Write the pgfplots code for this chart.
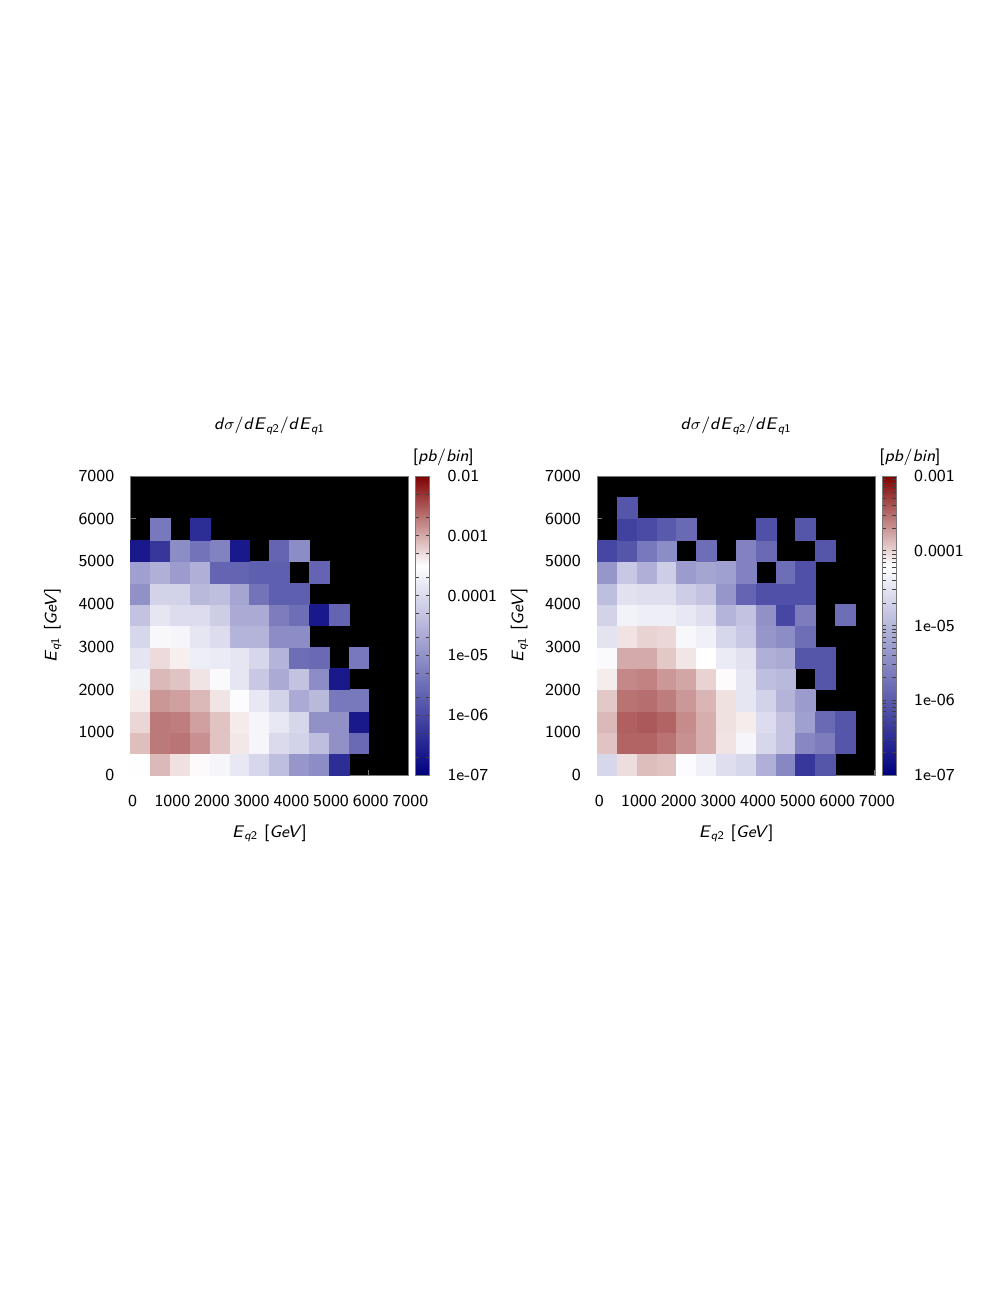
\documentclass[border=0pt]{standalone}
\usepackage{pgfplots}
\pgfplotsset{compat=1.18}
\usepackage{pgfplotstable}

\definecolor{framegray}{RGB}{120,120,120}

% one 500 GeV x 500 GeV bin
\pgfdeclareplotmark{cell}{%
  \pgfpathrectangle{\pgfpoint{-4.96pt}{-5.34pt}}{\pgfpoint{9.92pt}{10.68pt}}%
  \pgfusepathqfillstroke}

% log10 of dsigma/dEq2/dEq1 [pb/bin], bin centres in GeV
\pgfplotstableread{
x y lv
250 250 -3.52
750 250 -3.09
1250 250 -3.32
1750 250 -3.47
2250 250 -3.64
2750 250 -3.81
3250 250 -4.05
3750 250 -4.39
4250 250 -4.94
4750 250 -5.08
5250 250 -6.38
250 750 -3.12
750 750 -2.71
1250 750 -2.68
1750 750 -2.85
2250 750 -3.15
2750 750 -3.36
3250 750 -3.64
3750 750 -4.01
4250 750 -4.12
4750 750 -4.39
5250 750 -5.01
5750 750 -5.56
250 1250 -3.26
750 1250 -2.71
1250 1250 -2.74
1750 1250 -2.94
2250 1250 -3.15
2750 1250 -3.38
3250 1250 -3.64
3750 1250 -3.81
4250 1250 -4.05
4750 1250 -5.01
5250 1250 -5.01
5750 1250 -6.66
250 1750 -3.38
750 1750 -2.88
1250 1750 -2.94
1750 1750 -3.09
2250 1750 -3.34
2750 1750 -3.54
3250 1750 -3.81
3750 1750 -4.12
4250 1750 -4.67
4750 1750 -4.46
5250 1750 -5.35
5750 1750 -5.35
250 2250 -3.71
750 2250 -3.09
1250 2250 -3.15
1750 2250 -3.34
2250 2250 -3.57
2750 2250 -3.84
3250 2250 -4.25
3750 2250 -4.67
4250 2250 -4.32
4750 2250 -5.08
5250 2250 -6.66
250 2750 -3.87
750 2750 -3.29
1250 2750 -3.40
1750 2750 -3.73
2250 2750 -3.77
2750 2750 -3.84
3250 2750 -4.05
3750 2750 -4.53
4250 2750 -5.49
4750 2750 -5.56
5750 2750 -5.35
250 3250 -4.05
750 3250 -3.60
1250 3250 -3.64
1750 3250 -3.84
2250 3250 -3.98
2750 3250 -4.53
3250 3250 -4.53
3750 3250 -5.08
4250 3250 -5.08
250 3750 -4.32
750 3750 -3.84
1250 3750 -3.98
1750 3750 -3.98
2250 3750 -4.19
2750 3750 -4.67
3250 3750 -4.67
3750 3750 -5.28
4250 3750 -5.49
4750 3750 -6.66
5250 3750 -5.63
250 4250 -5.01
750 4250 -4.12
1250 4250 -4.12
1750 4250 -4.46
2250 4250 -4.39
2750 4250 -4.73
3250 4250 -5.42
3750 4250 -5.70
4250 4250 -5.70
250 4750 -4.80
750 4750 -4.60
1250 4750 -4.87
1750 4750 -4.60
2250 4750 -5.63
2750 4750 -5.63
3250 4750 -5.70
3750 4750 -5.70
4750 4750 -5.63
250 5250 -6.66
750 5250 -6.25
1250 5250 -5.08
1750 5250 -5.42
2250 5250 -5.22
2750 5250 -6.66
3750 5250 -5.63
4250 5250 -5.08
750 5750 -5.35
1750 5750 -6.38
}\lefttab

\pgfplotstableread{
x y lv
250 250 -4.64
750 250 -4.04
1250 250 -3.89
1750 250 -3.92
2250 250 -4.23
2750 250 -4.36
3250 250 -4.56
3750 250 -4.64
4250 250 -5.08
4750 250 -5.52
5250 250 -6.40
5750 250 -6.07
250 750 -3.92
750 750 -3.47
1250 750 -3.47
1750 750 -3.54
2250 750 -3.68
2750 750 -3.82
3250 750 -4.07
3750 750 -4.31
4250 750 -4.64
4750 750 -4.86
5250 750 -5.52
5750 750 -5.63
6250 750 -6.07
250 1250 -3.87
750 1250 -3.45
1250 1250 -3.42
1750 1250 -3.47
2250 1250 -3.66
2750 1250 -3.82
3250 1250 -4.06
3750 1250 -4.11
4250 1250 -4.58
4750 1250 -4.86
5250 1250 -5.24
5750 1250 -5.85
6250 1250 -6.07
250 1750 -3.94
750 1750 -3.54
1250 1750 -3.52
1750 1750 -3.59
2250 1750 -3.71
2750 1750 -3.85
3250 1750 -4.06
3750 1750 -4.47
4250 1750 -4.69
4750 1750 -5.02
5250 1750 -5.30
250 2250 -4.11
750 2250 -3.64
1250 2250 -3.61
1750 2250 -3.71
2250 2250 -3.78
2750 2250 -3.99
3250 2250 -4.18
3750 2250 -4.47
4250 2250 -4.91
4750 2250 -4.97
5750 2250 -6.07
250 2750 -4.25
750 2750 -3.80
1250 2750 -3.80
1750 2750 -3.94
2250 2750 -4.08
2750 2750 -4.20
3250 2750 -4.42
3750 2750 -4.53
4250 2750 -5.08
4750 2750 -5.13
5250 2750 -6.07
5750 2750 -6.07
250 3250 -4.50
750 3250 -4.07
1250 3250 -3.99
1750 3250 -4.01
2250 3250 -4.28
2750 3250 -4.36
3250 3250 -4.64
3750 3250 -4.80
4250 3250 -5.35
4750 3250 -5.46
5250 3250 -5.79
250 3750 -4.69
750 3750 -4.34
1250 3750 -4.39
1750 3750 -4.39
2250 3750 -4.45
2750 3750 -4.56
3250 3750 -5.02
3750 3750 -4.86
4250 3750 -5.41
4750 3750 -6.23
5250 3750 -5.63
6250 3750 -5.79
250 4250 -4.91
750 4250 -4.53
1250 4250 -4.56
1750 4250 -4.56
2250 4250 -4.75
2750 4250 -4.86
3250 4250 -5.35
3750 4250 -5.90
4250 4250 -6.12
4750 4250 -6.12
5250 4250 -6.12
250 4750 -5.35
750 4750 -4.80
1250 4750 -5.08
1750 4750 -4.75
2250 4750 -5.30
2750 4750 -5.19
3250 4750 -5.24
3750 4750 -5.57
4750 4750 -5.79
5250 4750 -6.12
250 5250 -6.23
750 5250 -6.07
1250 5250 -5.68
1750 5250 -5.46
2750 5250 -5.79
3750 5250 -5.57
4250 5250 -5.85
5750 5250 -6.07
750 5750 -6.29
1250 5750 -6.18
1750 5750 -6.01
2250 5750 -5.85
4250 5750 -6.12
5250 5750 -6.07
750 6250 -6.07
}\righttab

\newcommand{\Eq}[1]{\textit{E}\textsubscript{\textit{q}#1}}

\pgfplotsset{
  every axis/.append style={font=\sffamily\fontsize{8.4}{10}\selectfont},
  colorbar shift/.style={xshift=3.7pt},
  heat/.style={
    scale only axis, width=138.85pt, height=149.5pt,
    anchor=south west,
    xmin=0, xmax=7000, ymin=0, ymax=7000,
    axis background/.style={fill=black},
    axis line style={framegray},
    tick align=inside, tick pos=left,
    major tick length=2.5pt,
    tick style={framegray, line width=0.5pt},
    xtick={0,1000,...,7000}, ytick={0,1000,...,7000},
    xticklabels={0,1000,2000,3000,4000,5000,6000,7000},
    yticklabels={0,1000,2000,3000,4000,5000,6000,7000},
    xticklabel style={yshift=-6.5pt, xshift=1pt},
    yticklabel style={xshift=-4.7pt},
    every axis title shift=0pt,
    title={\textit{d}$\sigma$/\textit{d}\Eq{2}/\textit{d}\Eq{1}},
    title style={at={(axis description cs:0.5,1.154)}, anchor=base},
    xlabel={\Eq{2} [\textit{GeV}]},
    xlabel style={at={(axis description cs:0.5,-0.2074)}, anchor=base},
    ylabel={\Eq{1} [\textit{GeV}]},
    ylabel style={at={(axis description cs:-0.2665,0.5)}, anchor=base},
    colormap={bwr}{rgb255(0cm)=(0,0,128); rgb255(7cm)=(255,255,255); rgb255(10cm)=(128,0,0)},
    point meta min=-7,
    colorbar,
    extra description/.code={\node[anchor=base] at (1.126,1.050) {[\textit{pb}/\textit{bin}]};},
  },
  cbar/.style={
    scale only axis, width=6.85pt,
    at={(parent axis.north east)}, anchor=north west,
    axis line style={framegray},
    tick align=inside, ytick pos=both, yticklabel pos=right,
    major tick length=1.8pt, minor tick length=1.8pt,
    tick style={black!75, line width=0.4pt},
    yticklabel style={anchor=west, xshift=5.5pt},
  },
}

\begin{document}
\begin{tikzpicture}
\path[use as bounding box] (0,0) rectangle (498.5pt,-645pt);

\begin{axis}[heat, at={(65.35pt,-387.5pt)},
  point meta max=-2,
  colorbar style={cbar,
    ytick={-7,-6,-5,-4,-3,-2},
    yticklabels={1e-07,1e-06,1e-05,0.0001,0.001,0.01},
    minor ytick={-6.699,-6.301,-5.699,-5.301,-4.699,-4.301,-3.699,-3.301,-2.699,-2.301}}]
\addplot[scatter, only marks, mark=cell, point meta=explicit,
  scatter/use mapped color={draw=mapped color, fill=mapped color},
  mark options={line width=0.3pt}] table[x=x, y=y, meta=lv] {\lefttab};
\end{axis}

\begin{axis}[heat, at={(298.65pt,-387.5pt)},
  point meta max=-3,
  colorbar style={cbar,
    ytick={-7,-6,-5,-4,-3},
    yticklabels={1e-07,1e-06,1e-05,0.0001,0.001},
    minor ytick={-6.699,-6.523,-6.398,-6.301,-6.222,-6.155,-6.097,-6.046,
      -5.699,-5.523,-5.398,-5.301,-5.222,-5.155,-5.097,-5.046,
      -4.699,-4.523,-4.398,-4.301,-4.222,-4.155,-4.097,-4.046,
      -3.699,-3.523,-3.398,-3.301,-3.222,-3.155,-3.097,-3.046}}]
\addplot[scatter, only marks, mark=cell, point meta=explicit,
  scatter/use mapped color={draw=mapped color, fill=mapped color},
  mark options={line width=0.3pt}] table[x=x, y=y, meta=lv] {\righttab};
\end{axis}
\end{tikzpicture}
\end{document}
